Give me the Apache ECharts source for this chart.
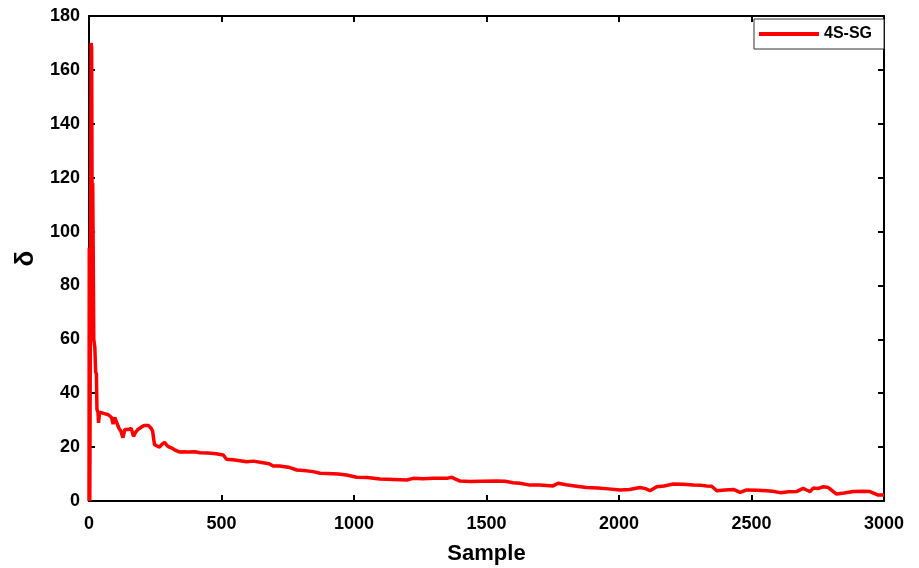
<!DOCTYPE html>
<html>
<head>
<meta charset="utf-8">
<script src="https://cdn.jsdelivr.net/npm/echarts@6/dist/echarts.min.js"></script>
<style>html,body{margin:0;padding:0;background:#fff}#c{width:919px;height:568px}</style>
</head>
<body>
<div id="c"></div>
<script>
const seriesName = '4S-SG';
const xTicks = [0, 500, 1000, 1500, 2000, 2500, 3000];
const yTicks = [0, 20, 40, 60, 80, 100, 120, 140, 160, 180];
const samples = [0,1,2,3,5,8,10,12,14,16,18,22,25,28,30,34,36,40,44,55,73,85,91,97,103,113,120,128,135,140,150,159,168,176,184,192,200,208,215,225,234,240,247,255,266,275,285,295,304,315,323,341,360,373,400,419,450,480,507,519,550,595,620,657,680,695,720,758,784,810,846,872,900,940,972,1010,1050,1098,1150,1199,1224,1260,1300,1350,1369,1400,1438,1480,1538,1570,1600,1626,1664,1700,1751,1770,1800,1840,1878,1920,1960,2004,2040,2079,2100,2117,2142,2170,2205,2240,2281,2310,2331,2350,2369,2400,2432,2457,2482,2520,2557,2580,2608,2640,2670,2695,2710,2721,2733,2750,2771,2790,2809,2821,2850,2884,2920,2947,2978,3000];
const delta   = [0,94,70,0,60,170,168,100,118,90,60,57,48,47,34,33,29,33,33,32.5,32,31,28.5,31,31,27,26,23.5,26.5,27,26.5,27,24,25.5,26.5,27,27.6,28,28.5,28,27,26,21,20.5,20,21,21.8,20.5,20,19.5,19,18.2,18.3,18.2,18.3,17.9,17.8,17.5,17.1,15.5,15.2,14.6,14.8,14.2,13.8,13.0,13.0,12.4,11.5,11.3,10.9,10.3,10.2,10.0,9.65,8.8,8.7,8.2,8.0,7.8,8.4,8.3,8.4,8.4,8.8,7.4,7.2,7.3,7.4,7.3,6.8,6.6,5.9,5.9,5.6,6.6,6.0,5.5,5.0,4.8,4.5,4.1,4.3,5.0,4.6,3.8,5.3,5.6,6.3,6.2,5.9,5.8,5.6,5.5,3.8,4.1,4.3,3.2,4.1,4.0,3.8,3.6,3.1,3.4,3.5,4.7,4.0,3.5,4.8,4.6,5.3,5.0,3.5,2.6,3.0,3.5,3.6,3.5,2.2,2.2];

const data = samples.map((s, i) => [s, delta[i]]);
const font = 'Arial, "Liberation Sans", sans-serif';
const fmt = v => String(v);

const chart = echarts.init(document.getElementById('c'));
chart.setOption({
  animation: false,
  grid: { left: 89, right: 35, top: 16, bottom: 67, show: false, containLabel: false, outerBoundsMode: 'none' },
  legend: {
    right: 35, top: 19,
    itemWidth: 60, itemHeight: 4, itemGap: 4,
    padding: [7, 12, 7, 5],
    borderColor: '#333', borderWidth: 1, backgroundColor: '#fff',
    textStyle: { fontFamily: font, fontWeight: 'bold', fontSize: 16, color: '#000' },
    icon: 'rect',
    data: [seriesName]
  },
  xAxis: [{
    type: 'value', min: 0, max: 3000, interval: 500,
    name: 'Sample', nameLocation: 'middle', nameGap: 42,
    nameTextStyle: { fontFamily: font, fontWeight: 'bold', fontSize: 22, color: '#000' },
    axisLine: { show: true, onZero: false, lineStyle: { color: '#000', width: 2 } },
    axisTick: { show: true, inside: true, length: 6, lineStyle: { color: '#000', width: 2 } },
    axisLabel: { fontFamily: font, fontWeight: 'bold', fontSize: 18, color: '#000', margin: 14, formatter: fmt },
    splitLine: { show: false }
  }, {
    type: 'value', min: 0, max: 3000, interval: 500, position: 'top',
    axisLine: { show: true, onZero: false, lineStyle: { color: '#000', width: 2 } },
    axisTick: { show: true, inside: true, length: 6, lineStyle: { color: '#000', width: 2 } },
    axisLabel: { show: false }, splitLine: { show: false }
  }],
  yAxis: [{
    type: 'value', min: 0, max: 180, interval: 20,
    name: 'δ', nameLocation: 'middle', nameGap: 48,
    nameTextStyle: { fontFamily: font, fontWeight: 'bold', fontSize: 26, color: '#000' },
    axisLine: { show: true, onZero: false, lineStyle: { color: '#000', width: 2 } },
    axisTick: { show: true, inside: true, length: 6, lineStyle: { color: '#000', width: 2 } },
    axisLabel: { fontFamily: font, fontWeight: 'bold', fontSize: 18, color: '#000', margin: 9, formatter: fmt },
    splitLine: { show: false }
  }, {
    type: 'value', min: 0, max: 180, interval: 20, position: 'right',
    axisLine: { show: true, onZero: false, lineStyle: { color: '#000', width: 2 } },
    axisTick: { show: true, inside: true, length: 6, lineStyle: { color: '#000', width: 2 } },
    axisLabel: { show: false }, splitLine: { show: false }
  }],
  series: [{
    name: seriesName, type: 'line', data: data,
    xAxisIndex: 0, yAxisIndex: 0,
    showSymbol: false, symbol: 'none',
    lineStyle: { color: '#ff0000', width: 3.5 },
    itemStyle: { color: '#ff0000' },
    z: 3
  }]
});
</script>
</body>
</html>
